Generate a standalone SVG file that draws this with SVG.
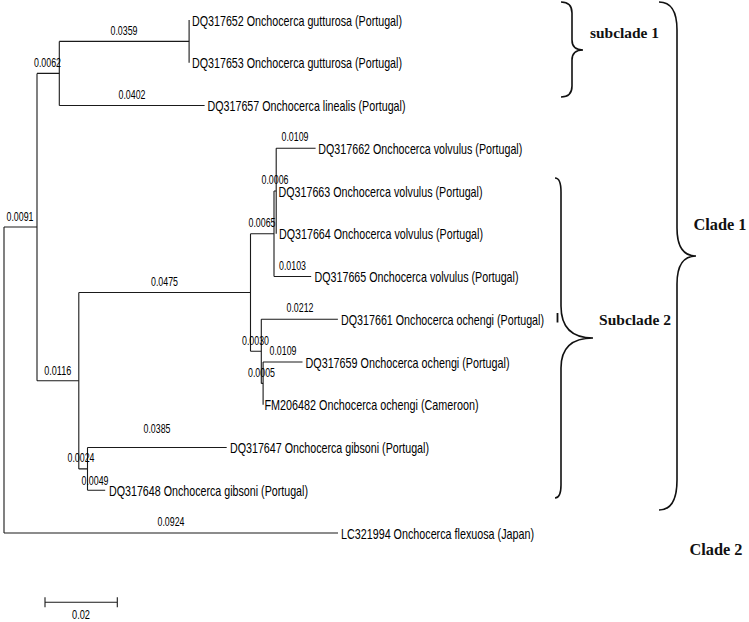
<svg xmlns="http://www.w3.org/2000/svg" width="749" height="622" viewBox="0 0 749 622">
<style>
.br{fill:none;stroke:#1a1a1a;stroke-width:1.1}
.leaf{font-family:"Liberation Sans",Arial,sans-serif;font-size:15px;fill:#000;dominant-baseline:central}
.bl{font-family:"Liberation Sans",Arial,sans-serif;font-size:13px;fill:#000;text-anchor:middle;dominant-baseline:central}
.brace{fill:none;stroke:#111;stroke-width:1.6}
.cl{font-family:"Liberation Serif","Times New Roman",serif;font-weight:bold;fill:#111;dominant-baseline:central}
</style>
<rect width="749" height="622" fill="#fff"/>
<g id="branches" class="br">
<path d="M4 227V533M4 227H37M4 533H338"/>
<path d="M37 73.4V380.7M37 73.4H59.3M37 380.7H78.8"/>
<path d="M59.3 41.4V105.5M59.3 41.4H189.1M59.3 105.5H204.6"/>
<path d="M189.1 20V62.75"/>
<path d="M78.8 292.5V468.9M78.8 292.5H250.5M78.8 468.9H87.5"/>
<path d="M250.5 233.75V351.3M250.5 233.75H274M250.5 351.3H261.3"/>
<path d="M274 191V276.5M274 191H276.2M274 276.5H311.2"/>
<path d="M276.2 148.25V233.75M276.2 148.25H315.6"/>
<path d="M261.3 319.25V383.4M261.3 319.25H337.9M261.3 383.4H263.1"/>
<path d="M263.1 362V404.75M263.1 362H302.5"/>
<path d="M87.5 447.5V490.25M87.5 447.5H226.7M87.5 490.25H105.2"/>
</g>
<g id="branch-lengths">
<text class="bl" x="124" y="30" textLength="27" lengthAdjust="spacingAndGlyphs">0.0359</text>
<text class="bl" x="47.5" y="62" textLength="27" lengthAdjust="spacingAndGlyphs">0.0062</text>
<text class="bl" x="132" y="94" textLength="27" lengthAdjust="spacingAndGlyphs">0.0402</text>
<text class="bl" x="20" y="216.5" textLength="27" lengthAdjust="spacingAndGlyphs">0.0091</text>
<text class="bl" x="57.8" y="370" textLength="27" lengthAdjust="spacingAndGlyphs">0.0116</text>
<text class="bl" x="164.5" y="281.5" textLength="27" lengthAdjust="spacingAndGlyphs">0.0475</text>
<text class="bl" x="262" y="222" textLength="27" lengthAdjust="spacingAndGlyphs">0.0065</text>
<text class="bl" x="275" y="179.5" textLength="27" lengthAdjust="spacingAndGlyphs">0.0006</text>
<text class="bl" x="295" y="136" textLength="27" lengthAdjust="spacingAndGlyphs">0.0109</text>
<text class="bl" x="292.5" y="265" textLength="27" lengthAdjust="spacingAndGlyphs">0.0103</text>
<text class="bl" x="255.5" y="340" textLength="27" lengthAdjust="spacingAndGlyphs">0.0030</text>
<text class="bl" x="300" y="307.5" textLength="27" lengthAdjust="spacingAndGlyphs">0.0212</text>
<text class="bl" x="261.5" y="372" textLength="27" lengthAdjust="spacingAndGlyphs">0.0005</text>
<text class="bl" x="283" y="350.5" textLength="27" lengthAdjust="spacingAndGlyphs">0.0109</text>
<text class="bl" x="81" y="457.5" textLength="27" lengthAdjust="spacingAndGlyphs">0.0024</text>
<text class="bl" x="157" y="428" textLength="27" lengthAdjust="spacingAndGlyphs">0.0385</text>
<text class="bl" x="95" y="480" textLength="27" lengthAdjust="spacingAndGlyphs">0.0049</text>
<text class="bl" x="171" y="521.5" textLength="27" lengthAdjust="spacingAndGlyphs">0.0924</text>
</g>
<g id="leaf-DQ317652"><text class="leaf" x="192" y="20" textLength="210" lengthAdjust="spacingAndGlyphs">DQ317652 Onchocerca gutturosa (Portugal)</text></g>
<g id="leaf-DQ317653"><text class="leaf" x="192" y="62.75" textLength="210" lengthAdjust="spacingAndGlyphs">DQ317653 Onchocerca gutturosa (Portugal)</text></g>
<g id="leaf-DQ317657"><text class="leaf" x="207.5" y="105.5" textLength="198" lengthAdjust="spacingAndGlyphs">DQ317657 Onchocerca linealis (Portugal)</text></g>
<g id="leaf-DQ317662"><text class="leaf" x="318.3" y="148.25" textLength="204" lengthAdjust="spacingAndGlyphs">DQ317662 Onchocerca volvulus (Portugal)</text></g>
<g id="leaf-DQ317663"><text class="leaf" x="278.5" y="191" textLength="204" lengthAdjust="spacingAndGlyphs">DQ317663 Onchocerca volvulus (Portugal)</text></g>
<g id="leaf-DQ317664"><text class="leaf" x="279" y="233.75" textLength="204" lengthAdjust="spacingAndGlyphs">DQ317664 Onchocerca volvulus (Portugal)</text></g>
<g id="leaf-DQ317665"><text class="leaf" x="314.5" y="276.5" textLength="204" lengthAdjust="spacingAndGlyphs">DQ317665 Onchocerca volvulus (Portugal)</text></g>
<g id="leaf-DQ317661"><text class="leaf" x="341" y="319.25" textLength="203" lengthAdjust="spacingAndGlyphs">DQ317661 Onchocerca ochengi (Portugal)</text></g>
<g id="leaf-DQ317659"><text class="leaf" x="305.5" y="362" textLength="204" lengthAdjust="spacingAndGlyphs">DQ317659 Onchocerca ochengi (Portugal)</text></g>
<g id="leaf-FM206482"><text class="leaf" x="264.5" y="404.75" textLength="214" lengthAdjust="spacingAndGlyphs">FM206482 Onchocerca ochengi (Cameroon)</text></g>
<g id="leaf-DQ317647"><text class="leaf" x="230" y="447.5" textLength="199" lengthAdjust="spacingAndGlyphs">DQ317647 Onchocerca gibsoni (Portugal)</text></g>
<g id="leaf-DQ317648"><text class="leaf" x="109" y="490.25" textLength="199" lengthAdjust="spacingAndGlyphs">DQ317648 Onchocerca gibsoni (Portugal)</text></g>
<g id="leaf-LC321994"><text class="leaf" x="341" y="533" textLength="193" lengthAdjust="spacingAndGlyphs">LC321994 Onchocerca flexuosa (Japan)</text></g>
<line x1="557.5" y1="313" x2="557.5" y2="322.5" stroke="#111" stroke-width="1.8"/>
<g id="subclade1">
<path class="brace" d="M561 2Q572 2 572 13L572 40Q572 50 583 50Q572 50 572 60L572 86Q572 97 561 97"/>
<text class="cl" x="590" y="32" font-size="15.5px" textLength="69" lengthAdjust="spacingAndGlyphs">subclade 1</text>
</g>
<g id="subclade2">
<path class="brace" d="M555 178Q561 178 561 192L561 306Q561 338 593 338Q561 338 561 368L561 485Q561 498 555 498"/>
<text class="cl" x="599" y="319" font-size="15.5px" textLength="72" lengthAdjust="spacingAndGlyphs">Subclade 2</text>
</g>
<g id="clade1">
<path class="brace" d="M659 2Q677 2 677 30L677 228Q677 256 696 256Q677 256 677 284L677 480Q677 510 659 510"/>
<text class="cl" x="693.5" y="224" font-size="16px" textLength="53" lengthAdjust="spacingAndGlyphs">Clade 1</text>
</g>
<g id="clade2">
<text class="cl" x="689.5" y="549.5" font-size="16px" textLength="53" lengthAdjust="spacingAndGlyphs">Clade 2</text>
</g>
<g id="scale-bar">
<path class="br" d="M45 602.3H117.3M45 597.3V607.3M117.3 597.3V607.3"/>
<text class="bl" x="81" y="614.5" textLength="18" lengthAdjust="spacingAndGlyphs">0.02</text>
</g>
</svg>
